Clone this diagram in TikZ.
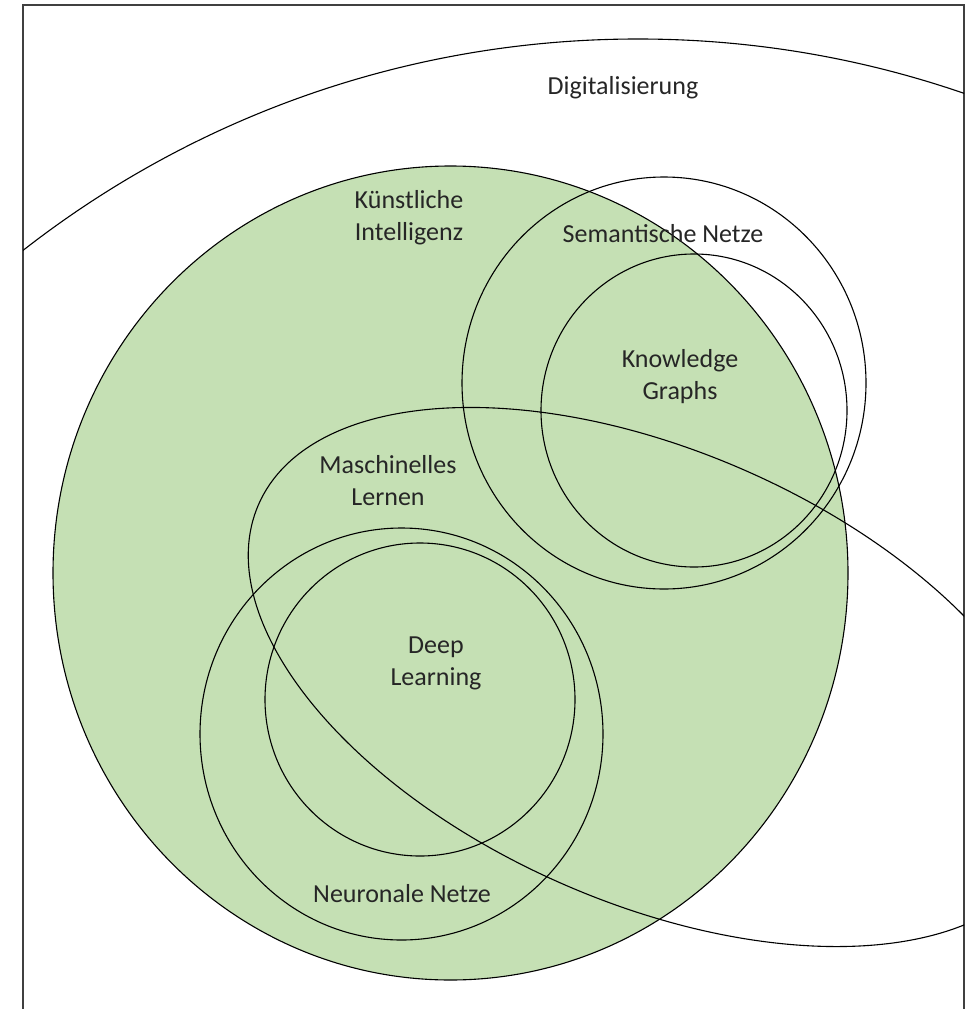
\documentclass[tikz,border=0pt]{standalone}
\usepackage{fontspec}
\setmainfont{Carlito}
\usepackage{tikz}
\usetikzlibrary{positioning}
\definecolor{kigreen}{HTML}{C5E0B4}

\begin{document}
\begin{tikzpicture}[x=1pt, y=-1pt,
    setline/.style={draw=black, line width=1.1pt},
    settext/.style={align=center, font=\fontsize{26}{32}\selectfont, text=black!85, inner sep=0pt}]
    \useasboundingbox (0,0) rectangle (966,1009);
    % frame
    \draw[black!75, line width=1.5pt] (23,1009) -- (23,5) -- (964,5) -- (964,1009);
    \begin{scope}
        \clip (23,5) rectangle (964,1009);
        \fill[kigreen] (450.5,573) ellipse [x radius=397.5, y radius=407];
        \draw[setline] (638,1039) circle [radius=1000];
        \draw[setline] (450.5,573) ellipse [x radius=397.5, y radius=407];
        \draw[setline] (664,383) ellipse [x radius=202, y radius=206];
        \draw[setline] (694,410.5) ellipse [x radius=153, y radius=156.5];
        \draw[setline, rotate around={-23.6:(653.5,677)}] (653.5,677) ellipse [x radius=431, y radius=226];
        \draw[setline] (401.5,734) ellipse [x radius=201.5, y radius=206];
        \draw[setline] (420,699.5) ellipse [x radius=155, y radius=156.5];
    \end{scope}
    \node[settext] (dig) at (623,88) {Digitalisierung};
    \node[settext] (ki) at (409,218) {Künstliche\\Intelligenz};
    \node[settext] (sn) at (663,234) {Semantische Netze};
    \node[settext] (kg) at (680,377) {Knowledge\\Graphs};
    \node[settext] (ml) at (388,481) {Maschinelles\\Lernen};
    \node[settext] (dl) at (436,663) {Deep\\Learning};
    \node[settext] (nn) at (402,894) {Neuronale Netze};
\end{tikzpicture}
\end{document}
